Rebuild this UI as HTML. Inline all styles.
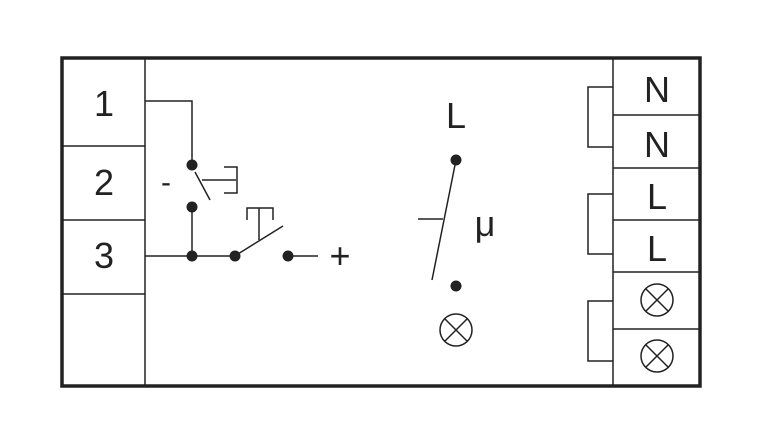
<!DOCTYPE html>
<html><head><style>body{margin:0;background:#fff}</style></head><body>
<svg width="760" height="443" viewBox="0 0 760 443" xmlns="http://www.w3.org/2000/svg" font-family="Liberation Sans, sans-serif">
<rect x="62" y="58" width="638" height="328" fill="none" stroke="#222" stroke-width="3.5"/>
<g stroke="#222" stroke-width="1.5" fill="none">
<line x1="145" y1="58" x2="145" y2="386"/>
<line x1="62" y1="146" x2="145" y2="146"/>
<line x1="62" y1="220" x2="145" y2="220"/>
<line x1="62" y1="294" x2="145" y2="294"/>
<line x1="613" y1="58" x2="613" y2="386"/>
<line x1="613" y1="115" x2="700" y2="115"/>
<line x1="613" y1="168" x2="700" y2="168"/>
<line x1="613" y1="220" x2="700" y2="220"/>
<line x1="613" y1="272" x2="700" y2="272"/>
<line x1="613" y1="329" x2="700" y2="329"/>
<polyline points="613,87 588,87 588,147 613,147"/>
<polyline points="613,194 588,194 588,254 613,254"/>
<polyline points="613,301 588,301 588,361 613,361"/>
<polyline points="145,101 192,101 192,165"/>
<line x1="195" y1="172" x2="210" y2="200"/>
<line x1="202" y1="180" x2="236" y2="180"/>
<polyline points="224,167 237,167 237,193 224,193"/>
<line x1="192" y1="207" x2="192" y2="256"/>
<line x1="145" y1="256" x2="235" y2="256"/>
<line x1="238" y1="254" x2="283" y2="226"/>
<line x1="259" y1="240" x2="259" y2="208"/>
<polyline points="247,220 247,208 273,208 273,220"/>
<line x1="288" y1="256" x2="318" y2="256"/>
<line x1="456" y1="160" x2="432" y2="280"/>
<line x1="418" y1="219" x2="443" y2="219"/>
<circle cx="456" cy="330" r="16"/>
<line x1="445" y1="319" x2="467" y2="341"/><line x1="467" y1="319" x2="445" y2="341"/>
<circle cx="657" cy="300" r="16"/>
<line x1="646" y1="289" x2="668" y2="311"/><line x1="668" y1="289" x2="646" y2="311"/>
<circle cx="657" cy="356" r="16"/>
<line x1="646" y1="345" x2="668" y2="367"/><line x1="668" y1="345" x2="646" y2="367"/>
</g>
<g fill="#222">
<circle cx="192" cy="165" r="5.5"/><circle cx="192" cy="207" r="5.5"/>
<circle cx="192" cy="256" r="5.5"/><circle cx="235" cy="256" r="5.5"/>
<circle cx="288" cy="256" r="5.5"/>
<circle cx="456" cy="160" r="5.5"/><circle cx="456" cy="286" r="5.5"/>
</g>
<g fill="#222" font-size="36" text-anchor="middle">
<text x="104" y="116">1</text>
<text x="104" y="195">2</text>
<text x="104" y="268">3</text>
<text x="657" y="102">N</text>
<text x="657" y="157">N</text>
<text x="657" y="209">L</text>
<text x="657" y="261">L</text>
<text x="456" y="128">L</text>
<text x="485" y="236">μ</text>
<text x="340" y="268">+</text>
<text x="166" y="192" font-size="30">-</text>
</g>
</svg>
</body></html>
